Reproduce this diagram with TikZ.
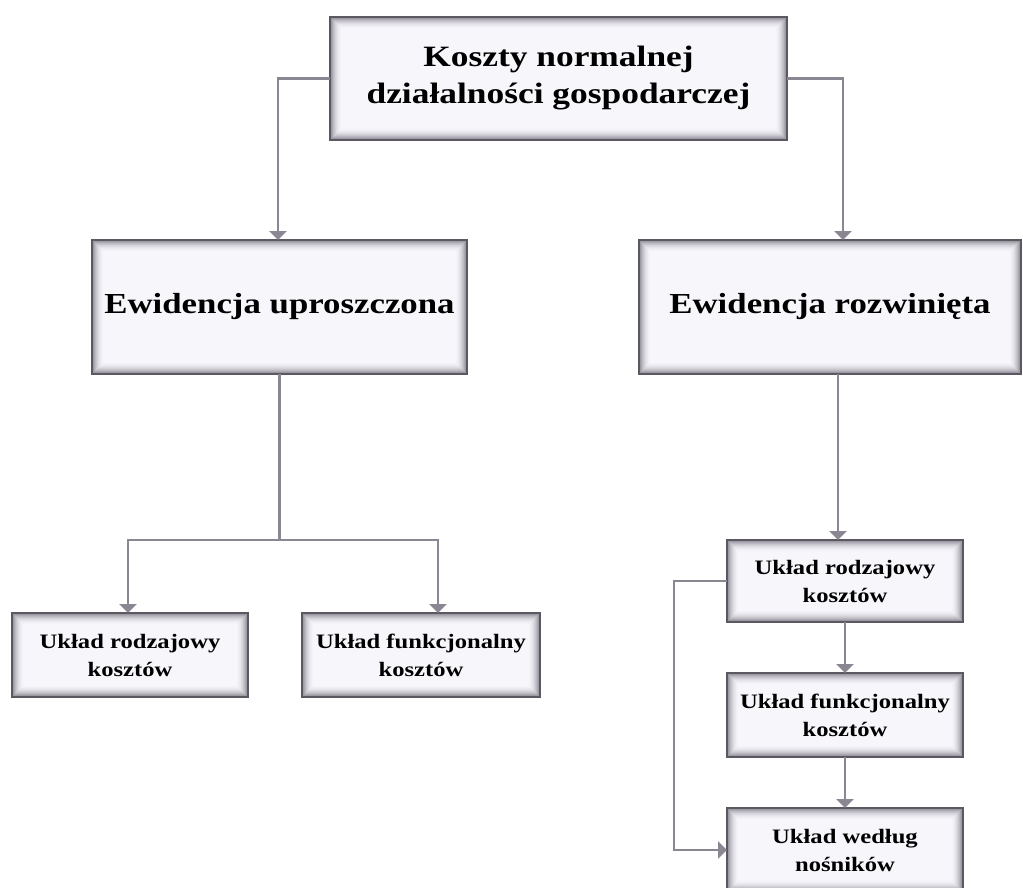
\documentclass[tikz,border=0pt]{standalone}
\usepackage{fontspec}
\setmainfont{Liberation Serif}[FakeStretch=1.2]
\usetikzlibrary{arrows.meta}

\definecolor{boxfill}{RGB}{247,246,251}
\definecolor{boxedge}{RGB}{92,88,98}
\definecolor{glow}{RGB}{120,116,128}
\definecolor{linecol}{RGB}{138,134,146}

\tikzset{
  shadedbox/.style={
    draw=boxedge, line width=1.6pt, fill=boxfill,
    inner sep=0pt, outer sep=0pt, align=center,
    path picture={
      % soft inner shadow along the border
      \foreach \k in {1,...,12}{
        \pgfmathtruncatemacro\mix{85*((13-\k)/12)^2}
        \draw[draw=glow!\mix!boxfill, line width=1.2pt]
          ([shift={(\k pt,-\k pt)}]path picture bounding box.north west)
          rectangle
          ([shift={(-\k pt,\k pt)}]path picture bounding box.south east);
      }
    }},
  bigtext/.style={font=\bfseries\fontsize{29}{38}\selectfont},
  toptext/.style={font=\bfseries\fontsize{29.5}{37}\selectfont},
  smalltext/.style={font=\bfseries\fontsize{20.5}{28}\selectfont},
  link/.style={draw=linecol, line width=2.7pt},
  conn/.style={link, -{Triangle[width=17pt,length=9pt]}},
}

\begin{document}
\begin{tikzpicture}[x=1pt,y=-1pt]
  \useasboundingbox (0,0) rectangle (1023,887);
  \clip (0,0) rectangle (1023,887);

  % boxes
  \node[shadedbox, toptext, minimum width=457, minimum height=123] (top) at (558.5,78.5)
    {Koszty normalnej\\działalności gospodarczej};
  \node[shadedbox, bigtext, minimum width=375, minimum height=134] (ewu) at (279.5,307)
    {Ewidencja uproszczona};
  \node[shadedbox, bigtext, minimum width=382, minimum height=134] (ewr) at (830,307)
    {Ewidencja rozwinięta};

  \node[shadedbox, smalltext, minimum width=236, minimum height=84] (u1) at (130,655)
    {Układ rodzajowy\\kosztów};
  \node[shadedbox, smalltext, minimum width=238, minimum height=84] (u2) at (421,655)
    {Układ funkcjonalny\\kosztów};

  \node[shadedbox, smalltext, minimum width=236, minimum height=82] (r1) at (845,581)
    {Układ rodzajowy\\kosztów};
  \node[shadedbox, smalltext, minimum width=236, minimum height=84] (r2) at (845,715)
    {Układ funkcjonalny\\kosztów};
  \node[shadedbox, smalltext, minimum width=236, minimum height=84] (r3) at (845,850)
    {Układ według\\nośników};

  % connectors
  \draw[conn] (top.west) -| ([xshift=-1.5pt]ewu.north);
  \draw[conn] (top.east) -| ([xshift=13pt]ewr.north);

  \draw[link] (ewu.south) -- ++(0,166) coordinate (fork);
  \draw[conn] (fork) -| ([xshift=-2pt]u1.north);
  \draw[conn] (fork) -| ([xshift=17pt]u2.north);

  \coordinate (rdrop) at ([xshift=8pt]ewr.south);
  \draw[conn] (rdrop) -- (rdrop |- r1.north);
  \draw[conn] (r1) -- (r2);
  \draw[conn] (r2) -- (r3);
  \draw[conn] (r1.west) -- ++(-53,0) |- (r3.west);
\end{tikzpicture}
\end{document}
